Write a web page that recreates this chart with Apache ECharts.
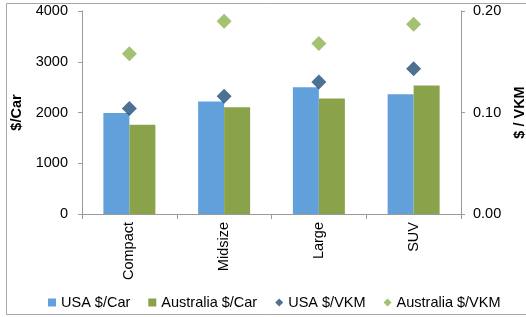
<!DOCTYPE html>
<html>
<head>
<meta charset="utf-8">
<script src="https://cdn.jsdelivr.net/npm/echarts@6/dist/echarts.min.js"></script>
<style>
  html, body { margin: 0; padding: 0; background: #fff; }
  #chart { width: 526px; height: 317px; }
</style>
</head>
<body>
<div id="chart"></div>
<script>
// categories and values
const categories = ['Compact', 'Midsize', 'Large', 'SUV'];
const usaPerCar = [1990, 2215, 2500, 2360];
const ausPerCar = [1760, 2105, 2275, 2530];
const usaPerVkm = [0.104, 0.116, 0.130, 0.143];
const ausPerVkm = [0.158, 0.190, 0.168, 0.187];
const leftTicks = [0, 4000, 1000];   // min, max, interval
const rightTicks = [0, 0.2, 0.1];

const axisGray = '#9a9a9a';
const font = 'Liberation Sans, Arial, sans-serif';
const fs = 14.5;

const chart = echarts.init(document.getElementById('chart'));

chart.setOption({
  animation: false,
  textStyle: { fontFamily: font },
  graphic: [{
    type: 'rect',
    shape: { x: 6.5, y: 3.5, width: 540, height: 311 },
    style: { fill: 'none', stroke: '#a6a6a6', lineWidth: 1 },
    silent: true
  }],
  grid: { left: 82, right: 65, top: 11, bottom: 103, outerBoundsMode: 'none' },
  legend: {
    left: 43,
    top: 290,
    itemWidth: 8,
    itemHeight: 8,
    itemGap: 18,
    textStyle: { fontSize: fs, color: '#000', fontFamily: font },
    data: [
      { name: 'USA $/Car', icon: 'rect' },
      { name: 'Australia $/Car', icon: 'rect' },
      { name: 'USA $/VKM', icon: 'diamond' },
      { name: 'Australia $/VKM', icon: 'diamond' }
    ]
  },
  xAxis: {
    type: 'category',
    data: categories,
    axisLine: { lineStyle: { color: axisGray } },
    axisTick: { show: true, length: 5, lineStyle: { color: axisGray } },
    axisLabel: { rotate: 90, margin: 8, fontSize: fs, color: '#000' },
    splitLine: { show: false }
  },
  yAxis: [
    {
      type: 'value',
      min: leftTicks[0],
      max: leftTicks[1],
      interval: leftTicks[2],
      name: '$/Car',
      nameLocation: 'middle',
      nameRotate: 90,
      nameGap: 53,
      nameTextStyle: { fontSize: fs, fontWeight: 'bold', color: '#000' },
      axisLine: { show: true, lineStyle: { color: axisGray } },
      axisTick: { show: true, length: 4, lineStyle: { color: axisGray } },
      axisLabel: { fontSize: fs, color: '#000', margin: 14, formatter: v => String(v) },
      splitLine: { show: false }
    },
    {
      type: 'value',
      position: 'right',
      min: rightTicks[0],
      max: rightTicks[1],
      interval: rightTicks[2],
      name: '$ / VKM',
      nameLocation: 'middle',
      nameRotate: 90,
      nameGap: 49,
      nameTextStyle: { fontSize: fs, fontWeight: 'bold', color: '#000' },
      axisLine: { show: true, lineStyle: { color: axisGray } },
      axisTick: { show: true, length: 4, lineStyle: { color: axisGray } },
      axisLabel: { fontSize: fs, color: '#000', margin: 12, formatter: v => v.toFixed(2) },
      splitLine: { show: false }
    }
  ],
  series: [
    {
      name: 'USA $/Car',
      type: 'bar',
      data: usaPerCar,
      barWidth: 26,
      barGap: '0%',
      itemStyle: { color: '#62A0DC' }
    },
    {
      name: 'Australia $/Car',
      type: 'bar',
      data: ausPerCar,
      barWidth: 26,
      itemStyle: { color: '#8AA34A' }
    },
    {
      name: 'USA $/VKM',
      type: 'scatter',
      yAxisIndex: 1,
      data: usaPerVkm,
      symbol: 'diamond',
      symbolSize: 15,
      itemStyle: { color: '#1F4E78' }
    },
    {
      name: 'Australia $/VKM',
      type: 'scatter',
      yAxisIndex: 1,
      data: ausPerVkm,
      symbol: 'diamond',
      symbolSize: 15,
      itemStyle: { color: '#8DB04E' }
    }
  ]
});
</script>
</body>
</html>
